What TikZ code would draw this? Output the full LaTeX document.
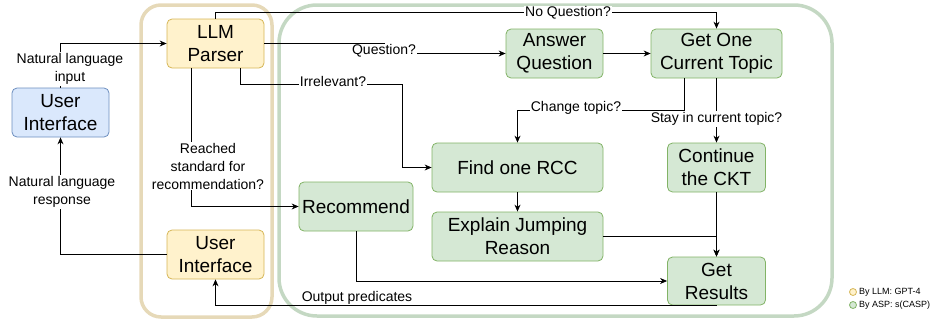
\documentclass[tikz,border=0pt]{standalone}
\usepackage{fontspec}
\setmainfont{Liberation Sans}
\usetikzlibrary{arrows.meta}
\definecolor{yfill}{HTML}{FFF2CC}
\definecolor{ydraw}{HTML}{D6B656}
\definecolor{gfill}{HTML}{D5E8D4}
\definecolor{gdraw}{HTML}{82B366}
\definecolor{bfill}{HTML}{DAE8FC}
\definecolor{bdraw}{HTML}{6C8EBF}
\definecolor{tanc}{HTML}{E6D9B8}
\definecolor{grnc}{HTML}{C4D8C3}
\tikzset{
  box/.style={rounded corners=5pt, line width=0.8pt, align=center, inner sep=0pt,
    font=\fontsize{19}{23}\selectfont},
  ybox/.style={box, fill=yfill, draw=ydraw},
  gbox/.style={box, fill=gfill, draw=gdraw},
  bbox/.style={box, fill=bfill, draw=bdraw},
  arr/.style={draw=black, line width=0.9pt, -{Stealth[length=7pt,width=6pt]}},
  lbl/.style={fill=white, inner sep=1pt, align=center, font=\fontsize{14}{18}\selectfont},
  legtxt/.style={anchor=west, inner sep=0pt, font=\fontsize{9}{11}\selectfont},
}
\begin{document}
\begin{tikzpicture}[x=1pt, y=-1pt]
\useasboundingbox (0,0) rectangle (941,324);
% containers
\draw[tanc, line width=3.5pt, rounded corners=20pt] (141,5) rectangle (272,317);
\draw[grnc, line width=3.5pt, rounded corners=38pt] (279,5) rectangle (832,316);
% nodes
\node[bbox, minimum width=97pt, minimum height=49pt] (ui) at (60.5,112.5) {User\\Interface};
\node[ybox, minimum width=97pt, minimum height=49pt] (llm) at (215.5,43.5) {LLM\\Parser};
\node[ybox, minimum width=97pt, minimum height=49pt] (ui2) at (215.5,254.5) {User\\Interface};
\node[gbox, minimum width=97pt, minimum height=49pt] (ans) at (554.5,53.5) {Answer\\Question};
\node[gbox, minimum width=131pt, minimum height=49pt] (get) at (716.5,53.5) {Get One\\Current Topic};
\node[gbox, minimum width=171pt, minimum height=49pt] (rcc) at (517.5,167.5) {Find one RCC};
\node[gbox, minimum width=98pt, minimum height=49pt] (cont) at (716.5,167.5) {Continue\\the CKT};
\node[gbox, minimum width=114pt, minimum height=49pt] (rec) at (356,206.5) {Recommend};
\node[gbox, minimum width=171pt, minimum height=49pt] (exp) at (517.5,236.5) {Explain Jumping\\Reason};
\node[gbox, minimum width=98pt, minimum height=48pt] (res) at (716.5,281) {Get\\Results};
% connectors
\draw[arr] (ui.north) |- (llm.west);
\node[lbl] (l1) at (70,69) {Natural language\\input};
\draw[arr] (ui2.west) -| (ui.south);
\node[lbl] (l2) at (62,192) {Natural language\\response};
\draw[arr] (llm.north) -- ++(0,-6) -| (get.north);
\node[lbl] (l3) at (568,13) {No Question?};
\draw[arr] (llm.east) -- (384,43.5) -- (384,53.5) -- (ans.west);
\node[lbl] (l4) at (384,51) {Question?};
\draw[arr] ([xshift=24.5pt]llm.south) |- (402,84) |- (rcc.west);
\node[lbl] (l5) at (333,81) {Irrelevant?};
\draw[arr] ([xshift=-24.5pt]llm.south) |- (rec.west);
\node[lbl] (l6) at (208,166) {Reached\\standard for\\recommendation?};
\draw[arr] (ans.east) -- (get.west);
\draw[arr] ([xshift=-32pt]get.south) |- (517.5,110) -| (rcc.north);
\node[lbl] (l7) at (576,108) {Change topic?};
\draw[arr] (get.south) -- (cont.north);
\node[lbl] (l8) at (716.5,119) {Stay in current topic?};
\draw[arr] (rcc.south) -- (exp.north);
\draw[arr] (cont.south) -- (res.north);
\draw[arr] (exp.east) -| (res.north);
\draw[arr] (rec.south) |- (res.west);
\draw[arr] (res.south) -| (ui2.south);
\node[inner sep=0pt, font=\fontsize{14}{18}\selectfont] (l9) at (357,298) {Output predicates};
% legend
\draw[fill=yfill, draw=ydraw, line width=0.8pt] (853,292) circle (3.5pt);
\node[legtxt] (lg1) at (859,292) {By LLM: GPT-4};
\draw[fill=gfill, draw=gdraw, line width=0.8pt] (853,305) circle (3.5pt);
\node[legtxt] (lg2) at (859,305) {By ASP: s(CASP)};
\end{tikzpicture}
\end{document}
